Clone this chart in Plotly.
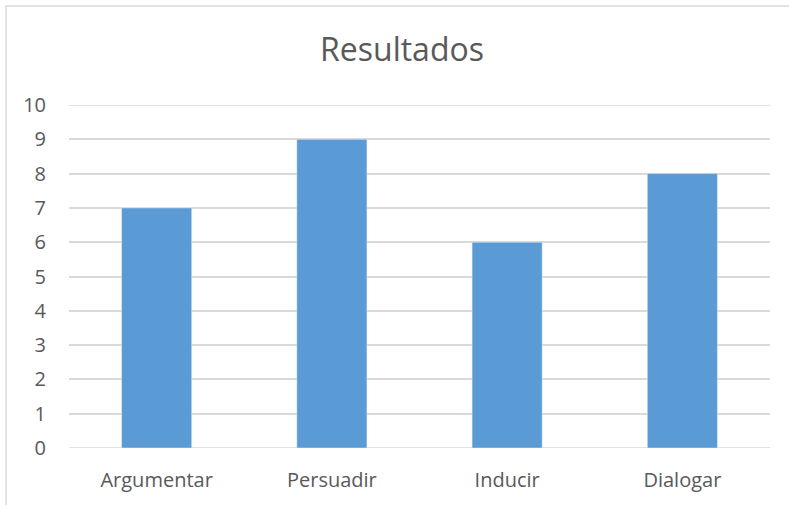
import plotly.graph_objects as go

categories = ["Argumentar", "Persuadir", "Inducir", "Dialogar"]
values = [7, 9, 6, 8]
y_ticks = list(range(0, 11))

W, H = 789, 505
L, R, T, B = 69, 19, 105, 57
pw, ph = W - L - R, H - T - B

fig = go.Figure(go.Bar(x=categories, y=values, marker_color="#5B9BD5", width=0.4))

def px_to_paper_x(px):
    return (px - L) / pw

def px_to_paper_y(py):
    return (H - B - py) / ph

grid = "#D9D9D9"
fig.update_layout(
    width=W, height=H,
    margin=dict(l=L, r=R, t=T, b=B),
    paper_bgcolor="white", plot_bgcolor="white",
    font=dict(family="Open Sans", color="#595959"),
    title=dict(text="Resultados", x=402 / W, xanchor="center", xref="container",
               y=1 - 50 / H, yanchor="middle", yref="container",
               font=dict(size=32, color="#595959")),
    showlegend=False,
    xaxis=dict(showgrid=False, showline=False, zeroline=False, ticks="",
               tickfont=dict(size=20, color="#595959"), ticklabelstandoff=18),
    yaxis=dict(range=[0, 10], tickvals=y_ticks, showgrid=True, gridcolor=grid,
               gridwidth=1.5, zeroline=False, showline=False, ticks="",
               tickfont=dict(size=20, color="#595959"), ticklabelstandoff=22),
    shapes=[dict(type="line", xref="paper", yref="y", x0=0, x1=1, y0=y_ticks[0], y1=y_ticks[0],
                 line=dict(color=grid, width=1.5), layer="below"),
            dict(type="line", xref="paper", yref="y", x0=0, x1=1, y0=y_ticks[-1], y1=y_ticks[-1],
                 line=dict(color=grid, width=1.5), layer="below"),
            dict(type="rect", xref="paper", yref="paper",
                 x0=px_to_paper_x(6), x1=px_to_paper_x(W + 20),
                 y0=px_to_paper_y(H + 20), y1=px_to_paper_y(6),
                 line=dict(color=grid, width=1.5), fillcolor="rgba(0,0,0,0)")],
    bargap=0.6,
)

fig.write_html("out.html", config={"displayModeBar": False},
               post_script="document.body.style.margin='0';")
